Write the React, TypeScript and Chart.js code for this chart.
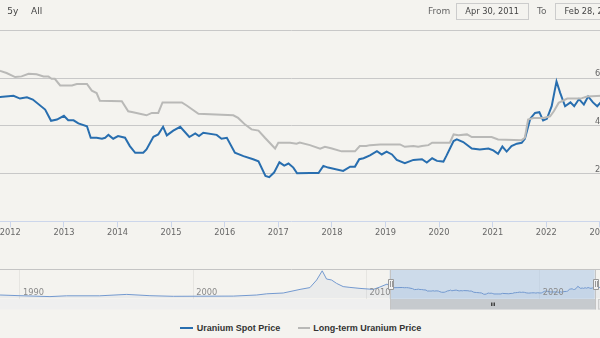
import React, { useEffect, useRef } from "react";
import { Chart, registerables } from "chart.js";

Chart.register(...registerables);

// ---- data (decimal years) ----
const spotYears = [
  2011.33, 2011.58, 2011.81, 2012.06, 2012.18, 2012.31, 2012.42, 2012.65, 2012.76, 2012.87,
  2013.0, 2013.08, 2013.18, 2013.27, 2013.43, 2013.5, 2013.61, 2013.71, 2013.77, 2013.83,
  2013.92, 2014.01, 2014.14, 2014.23, 2014.33, 2014.48, 2014.54, 2014.67, 2014.76, 2014.85,
  2014.92, 2015.04, 2015.17, 2015.34, 2015.45, 2015.52, 2015.6, 2015.85, 2015.94, 2016.04,
  2016.19, 2016.35, 2016.53, 2016.63, 2016.76, 2016.83, 2016.92, 2017.02, 2017.11, 2017.19,
  2017.28, 2017.35, 2017.59, 2017.75, 2017.84, 2017.93, 2018.21, 2018.34, 2018.43, 2018.51,
  2018.59, 2018.71, 2018.84, 2018.93, 2019.02, 2019.12, 2019.21, 2019.36, 2019.52, 2019.68,
  2019.77, 2019.87, 2019.96, 2020.08, 2020.14, 2020.27, 2020.33, 2020.45, 2020.61, 2020.76,
  2020.92, 2021.01, 2021.1, 2021.18, 2021.26, 2021.35, 2021.45, 2021.54, 2021.6, 2021.7,
  2021.79, 2021.87, 2021.94, 2022.01, 2022.1, 2022.19, 2022.26, 2022.35, 2022.45, 2022.52,
  2022.61, 2022.7, 2022.78, 2022.87, 2022.95, 2023.03, 2023.16,
];
const spotValues = [
  55.5, 51.5, 52.1, 52.6, 51.4, 51.9, 51.0, 46.8, 42.1, 42.6,
  44.2, 42.3, 42.3, 41.0, 39.8, 35.0, 35.0, 34.6, 35.0, 36.2,
  34.6, 35.7, 35.0, 31.5, 28.7, 28.7, 30.1, 35.4, 36.4, 39.6,
  36.0, 38.0, 39.6, 35.3, 36.8, 35.7, 37.1, 36.2, 34.6, 35.0,
  28.7, 27.3, 26.0, 25.1, 19.0, 18.5, 20.4, 24.7, 23.3, 24.2,
  22.5, 20.1, 20.2, 20.2, 23.2, 22.5, 21.1, 22.9, 22.9, 26.0,
  26.4, 27.6, 29.4, 28.0, 29.2, 28.0, 25.7, 24.3, 25.7, 26.0,
  24.6, 26.4, 25.3, 25.0, 27.6, 33.6, 34.3, 33.2, 30.5, 30.1,
  30.5, 29.7, 28.3, 31.3, 29.2, 31.5, 32.5, 32.9, 34.6, 43.0,
  45.4, 45.7, 42.2, 42.9, 48.2, 58.6, 53.7, 48.2, 49.8, 48.2,
  51.2, 48.9, 52.3, 49.8, 48.2, 50.2, 50.5,
];

const longYears = [
  2011.33, 2011.6, 2011.81, 2011.93, 2012.09, 2012.21, 2012.34, 2012.49, 2012.62, 2012.71,
  2012.77, 2012.83, 2012.93, 2013.15, 2013.24, 2013.43, 2013.52, 2013.61, 2013.67, 2014.08,
  2014.2, 2014.29, 2014.54, 2014.64, 2014.76, 2014.84, 2015.2, 2015.29, 2015.51, 2016.16,
  2016.25, 2016.38, 2016.5, 2016.63, 2016.75, 2016.94, 2017.0, 2017.22, 2017.34, 2017.4,
  2017.59, 2017.78, 2017.87, 2018.0, 2018.18, 2018.43, 2018.52, 2018.64, 2018.71, 2018.9,
  2019.27, 2019.36, 2019.52, 2019.61, 2019.68, 2019.8, 2019.87, 2020.2, 2020.27, 2020.36,
  2020.52, 2020.61, 2020.98, 2021.1, 2021.54, 2021.6, 2021.66, 2021.76, 2021.95, 2022.07,
  2022.14, 2022.23, 2022.39, 2022.64, 2022.76, 2023.03, 2023.16,
];
const longValues = [
  68.0, 65.0, 63.0, 62.1, 60.4, 60.7, 61.8, 61.6, 60.7, 60.7,
  59.7, 59.7, 56.9, 56.9, 57.5, 57.5, 54.7, 53.7, 50.5, 50.3,
  46.1, 45.7, 44.4, 45.4, 45.4, 49.8, 49.8, 48.5, 45.0, 44.4,
  43.3, 40.5, 38.5, 38.0, 35.0, 30.5, 32.9, 32.9, 32.5, 33.0,
  31.9, 30.4, 31.2, 30.5, 29.3, 29.3, 31.5, 31.5, 31.9, 32.2,
  32.2, 31.2, 31.5, 31.2, 31.5, 31.9, 32.9, 32.9, 36.4, 36.0,
  36.4, 35.3, 35.3, 34.3, 34.0, 35.0, 42.6, 43.3, 43.3, 44.0,
  46.1, 49.6, 51.4, 51.4, 52.3, 52.6, 52.6,
];

// navigator: spot price history before / after the selected range
const navHistoryYears = [
  1987.37, 1988.85, 1990.0, 1991.73, 1992.69, 1994.6, 1996.16, 1997.5, 1998.85, 2000.39,
  2002.31, 2003.66, 2004.24, 2005.19, 2006.16, 2006.73, 2007.12, 2007.44, 2007.69, 2007.98,
  2008.27, 2008.65, 2009.04, 2009.62, 2010.39, 2010.77, 2011.19,
];
const navHistoryValues = [
  17, 15, 11.5, 7, 11, 11, 18, 11.5, 8.5, 9,
  9.5, 15, 21, 25, 43, 52, 90, 136, 95, 90,
  73, 57, 53, 48, 43, 55, 70,
];
const navTailYears = [2023.33, 2023.6, 2023.9];
const navTailValues = [51, 56, 73];

const yTickLabels = [20, 40, 60];
const rangeFrom = 2011.33;
const rangeTo = 2023.16;
const navMin = 1987.37;
const navMax = 2023.96;
const rangeButtons = ["5y", "All"];
const rangeInputs = ["Apr 30, 2011", "Feb 28, 2023"];
const seriesNames = ["Uranium Spot Price", "Long-term Uranium Price"];

const BLUE = "#286eaf";
const GRAY = "#b9b9b7";
const BG = "#f4f3ef";
const AXIS_FONT = "DejaVu Sans";

const toPoints = (xs: number[], ys: number[]) => xs.map((x, i) => ({ x, y: ys[i] }));

export default function App() {
  const mainRef = useRef<HTMLCanvasElement>(null);
  const navRef = useRef<HTMLCanvasElement>(null);

  useEffect(() => {
    const yLabelPlugin = {
      id: "yLabels",
      afterDatasetsDraw(chart: any) {
        const { ctx, chartArea, scales } = chart;
        ctx.save();
        ctx.font = `8.25px "${AXIS_FONT}"`;
        ctx.fillStyle = "#666666";
        ctx.textAlign = "right";
        ctx.textBaseline = "alphabetic";
        for (const v of yTickLabels) {
          ctx.fillText(String(v), chartArea.right - 3, scales.y.getPixelForValue(v) - 2);
        }
        ctx.restore();
      },
    };

    const main = new Chart(mainRef.current as HTMLCanvasElement, {
      type: "line",
      data: {
        datasets: [
          {
            label: seriesNames[1],
            data: toPoints(longYears, longValues),
            borderColor: GRAY,
            borderWidth: 2,
            pointRadius: 0,
            tension: 0,
          },
          {
            label: seriesNames[0],
            data: toPoints(spotYears, spotValues),
            borderColor: BLUE,
            borderWidth: 2,
            pointRadius: 0,
            tension: 0,
          },
        ],
      },
      options: {
        animation: false,
        responsive: false,
        maintainAspectRatio: false,
        layout: { padding: { left: 14.4, right: 31.5, top: 30.3, bottom: 5.8 } },
        plugins: { legend: { display: false }, tooltip: { enabled: false } },
        scales: {
          x: {
            type: "linear",
            min: rangeFrom,
            max: rangeTo,
            grid: { drawOnChartArea: false, color: "#ccd6eb", tickLength: 6 },
            border: { color: "#ccd6eb" },
            ticks: {
              stepSize: 1,
              includeBounds: false,
              autoSkip: false,
              maxRotation: 0,
              padding: 1,
              color: "#666666",
              font: { family: AXIS_FONT, size: 8.25 },
              callback: (v: any) => String(v),
            },
          },
          y: {
            position: "right",
            min: 0,
            max: 80,
            ticks: { display: false, stepSize: 20 },
            grid: {
              drawTicks: false,
              color: (c: any) => (c.tick && c.tick.value === 0 ? "rgba(0,0,0,0)" : "#c8c8c8"),
            },
            border: { display: false },
          },
        },
      },
      plugins: [yLabelPlugin],
    } as any);

    const navPlugin = {
      id: "navigatorDecor",
      beforeDatasetsDraw(chart: any) {
        const { ctx, chartArea, scales } = chart;
        const x1 = scales.x.getPixelForValue(rangeFrom);
        const x2 = scales.x.getPixelForValue(rangeTo);
        ctx.save();
        ctx.fillStyle = "rgba(166,195,229,0.5)";
        ctx.fillRect(x1, chartArea.top, x2 - x1, chartArea.bottom - chartArea.top);
        ctx.restore();
      },
      afterDatasetsDraw(chart: any) {
        const { ctx, chartArea, scales } = chart;
        ctx.save();
        ctx.font = `8.25px "${AXIS_FONT}"`;
        ctx.fillStyle = "#8a8a8a";
        ctx.textAlign = "left";
        ctx.textBaseline = "middle";
        for (const t of scales.x.ticks) {
          ctx.fillText(String(t.value), scales.x.getPixelForValue(t.value) + 3, chartArea.bottom - 6.3);
        }
        ctx.restore();
      },
      afterDraw(chart: any) {
        const { ctx, chartArea, scales } = chart;
        const x1 = Math.round(scales.x.getPixelForValue(rangeFrom)) + 0.5;
        const x2 = Math.round(scales.x.getPixelForValue(rangeTo)) + 0.5;
        const top = Math.round(chartArea.top) + 0.5;
        const bottom = chartArea.bottom;
        const sbTop = bottom;
        const sbH = 10.5;
        ctx.save();
        // scrollbar track
        ctx.fillStyle = "#efefef";
        ctx.fillRect(chartArea.left, sbTop, chartArea.right - chartArea.left, sbH);
        // thumb
        ctx.fillStyle = "#c6cace";
        ctx.fillRect(x1, sbTop, x2 - x1, sbH);
        // grip
        const cx = Math.round((x1 + x2) / 2);
        ctx.strokeStyle = "#444444";
        ctx.lineWidth = 1;
        for (const dx of [-1.5, 0, 1.5]) {
          ctx.beginPath();
          ctx.moveTo(cx + dx, sbTop + 3.5);
          ctx.lineTo(cx + dx, sbTop + 7);
          ctx.stroke();
        }
        // right scrollbar button
        ctx.fillStyle = "#e6e6e6";
        ctx.strokeStyle = "#cccccc";
        ctx.fillRect(chartArea.right - 10.5, sbTop, 10.5, sbH);
        ctx.strokeRect(chartArea.right - 10, sbTop + 0.5, 10, sbH - 1);
        // outline
        ctx.strokeStyle = "#c4c4c4";
        ctx.beginPath();
        ctx.moveTo(chartArea.left, top);
        ctx.lineTo(chartArea.right, top);
        ctx.moveTo(x1, top);
        ctx.lineTo(x1, sbTop + sbH);
        ctx.moveTo(x2, top);
        ctx.lineTo(x2, sbTop + sbH);
        ctx.stroke();
        // handles
        const hy = (chartArea.top + chartArea.bottom) / 2;
        for (const hx of [x1, x2]) {
          ctx.fillStyle = "#f2f2f2";
          ctx.strokeStyle = "#999999";
          ctx.beginPath();
          ctx.rect(Math.round(hx - 3) + 0.5, Math.round(hy - 5.5) + 0.5, 5, 10);
          ctx.fill();
          ctx.stroke();
          ctx.beginPath();
          ctx.moveTo(Math.round(hx - 1) + 0.5, Math.round(hy - 3));
          ctx.lineTo(Math.round(hx - 1) + 0.5, Math.round(hy + 3));
          ctx.moveTo(Math.round(hx + 1) + 0.5, Math.round(hy - 3));
          ctx.lineTo(Math.round(hx + 1) + 0.5, Math.round(hy + 3));
          ctx.stroke();
        }
        ctx.restore();
      },
    };

    const navYears = [...navHistoryYears, ...spotYears, ...navTailYears];
    const navValues = [...navHistoryValues, ...spotValues, ...navTailValues];

    const nav = new Chart(navRef.current as HTMLCanvasElement, {
      type: "line",
      data: {
        datasets: [
          {
            label: seriesNames[0],
            data: toPoints(navYears, navValues),
            borderColor: "#7399cf",
            backgroundColor: "rgba(51,92,173,0.05)",
            fill: "origin",
            borderWidth: 1,
            pointRadius: 0,
            tension: 0,
          },
        ],
      },
      options: {
        animation: false,
        responsive: false,
        maintainAspectRatio: false,
        layout: { padding: { left: 14.4, right: 31.5, top: 7, bottom: 13 } },
        plugins: { legend: { display: false }, tooltip: { enabled: false } },
        scales: {
          x: {
            type: "linear",
            min: navMin,
            max: navMax,
            grid: { color: "#e6e5e1", drawTicks: false },
            border: { display: false },
            ticks: { display: false, stepSize: 10, includeBounds: false },
          },
          y: { display: false, min: -5, max: 145 },
        },
      },
      plugins: [navPlugin],
    } as any);

    return () => {
      main.destroy();
      nav.destroy();
    };
  }, []);

  const textBase: React.CSSProperties = {
    position: "absolute",
    whiteSpace: "nowrap",
    fontFamily: AXIS_FONT,
    lineHeight: "12px",
  };

  return (
    <div
      style={{
        position: "fixed",
        left: 0,
        top: 0,
        width: 600,
        height: 338,
        overflow: "hidden",
        background: BG,
      }}
    >
      <div style={{ position: "absolute", left: -40, top: 0, width: 680, height: 245 }}>
        <canvas ref={mainRef} width={680} height={245} style={{ display: "block" }} />
      </div>
      <div style={{ position: "absolute", left: -40, top: 262, width: 680, height: 50 }}>
        <canvas ref={navRef} width={680} height={50} style={{ display: "block" }} />
      </div>

      {/* range selector */}
      <span style={{ ...textBase, left: 7.3, top: 4.9, fontSize: 9, color: "#444" }}>{rangeButtons[0]}</span>
      <span style={{ ...textBase, left: 31, top: 4.9, fontSize: 9, color: "#444" }}>{rangeButtons[1]}</span>
      <span style={{ ...textBase, left: 428, top: 4.9, fontSize: 9, color: "#666" }}>From</span>
      <div
        style={{
          position: "absolute",
          left: 455.7,
          top: 3.3,
          width: 73,
          height: 16.7,
          boxSizing: "border-box",
          border: "1px solid #cccccc",
        }}
      />
      <span style={{ ...textBase, left: 455.7, width: 73, textAlign: "center", top: 4.85, fontSize: 8.25, color: "#444" }}>
        {rangeInputs[0]}
      </span>
      <span style={{ ...textBase, left: 537, top: 4.9, fontSize: 9, color: "#666" }}>To</span>
      <div
        style={{
          position: "absolute",
          left: 555,
          top: 3.3,
          width: 73,
          height: 16.7,
          boxSizing: "border-box",
          border: "1px solid #cccccc",
        }}
      />
      <span style={{ ...textBase, left: 555, width: 73, textAlign: "center", top: 4.85, fontSize: 8.25, color: "#444" }}>
        {rangeInputs[1]}
      </span>

      {/* legend */}
      <div style={{ position: "absolute", left: 180, top: 326.5, width: 13, height: 2, background: BLUE }} />
      <span
        style={{
          ...textBase,
          fontFamily: "Liberation Sans",
          fontWeight: "bold",
          left: 196.7,
          top: 321.5,
          fontSize: 9,
          color: "#333",
        }}
      >
        {seriesNames[0]}
      </span>
      <div style={{ position: "absolute", left: 297.7, top: 326.5, width: 12, height: 2, background: GRAY }} />
      <span
        style={{
          ...textBase,
          fontFamily: "Liberation Sans",
          fontWeight: "bold",
          left: 313.3,
          top: 321.5,
          fontSize: 9,
          color: "#333",
        }}
      >
        {seriesNames[1]}
      </span>
    </div>
  );
}
